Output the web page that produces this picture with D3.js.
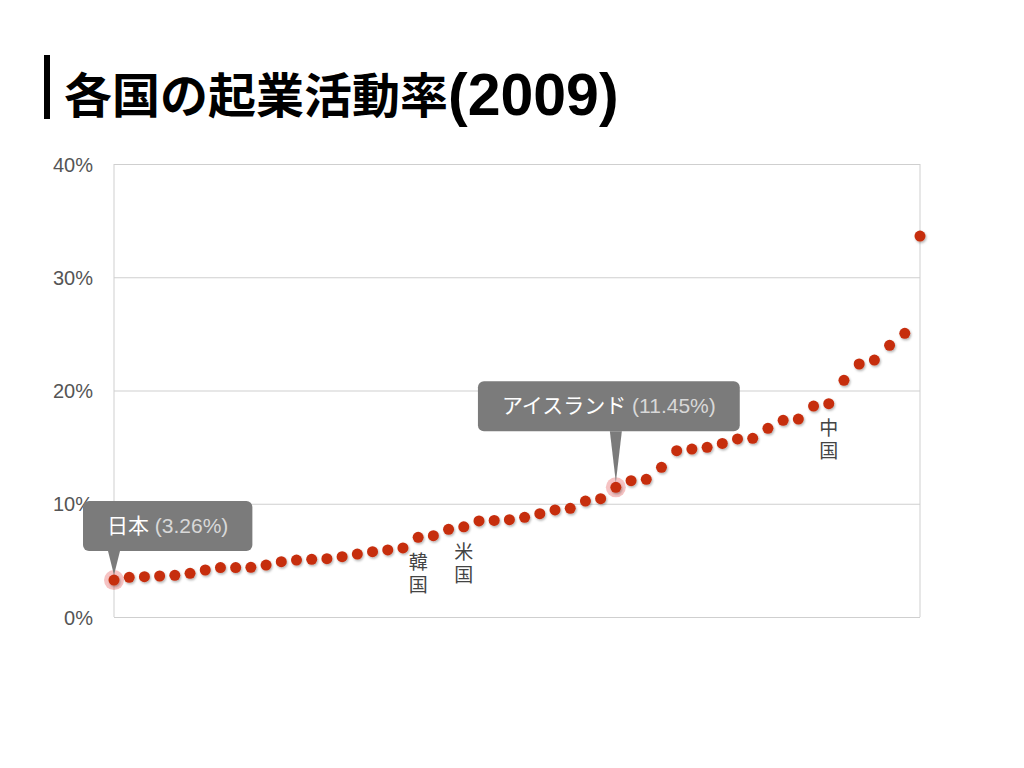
<!DOCTYPE html>
<html>
<head>
<meta charset="utf-8">
<script src="https://cdn.jsdelivr.net/npm/d3@7"></script>
<style>
  body { margin: 0; background: #fff; }
  svg { display: block; font-family: "Liberation Sans", "Noto Sans CJK JP", sans-serif; }
</style>
</head>
<body>
<svg id="chart"></svg>
<script>
// 起業活動率 (TEA) 2009, sorted ascending, one value per country
const rates = [
  3.26, 3.50, 3.56, 3.62, 3.68, 3.86, 4.15, 4.36, 4.36, 4.39,
  4.59, 4.88, 5.03, 5.09, 5.15, 5.33, 5.56, 5.77, 5.92, 6.10,
  7.04, 7.18, 7.74, 7.96, 8.48, 8.53, 8.59, 8.80, 9.12, 9.45,
  9.60, 10.24, 10.45, 11.45, 12.04, 12.16, 13.22, 14.69, 14.83, 14.98,
  15.33, 15.72, 15.78, 16.66, 17.37, 17.48, 18.63, 18.84, 20.90, 22.34,
  22.69, 23.99, 25.05, 33.64
];
const yTicks = [0, 10, 20, 30, 40];

// labelled countries (index into rates)
const labelIdx = [20, 23, 47];
const labelText = ["韓国", "米国", "中国"];

// callouts
const calloutIdx = [0, 33];
const calloutName = ["日本", "アイスランド"];

const width = 1024, height = 768;
const plot = { left: 114, right: 920, top: 164, bottom: 617 };
const dotColor = "#c62d0d";

const svg = d3.select("#chart").attr("width", width).attr("height", height);

const defs = svg.append("defs");
const shadow = defs.append("filter").attr("id", "shadow")
  .attr("x", "-50%").attr("y", "-50%").attr("width", "200%").attr("height", "200%");
shadow.append("feDropShadow")
  .attr("dx", 1).attr("dy", 1.5).attr("stdDeviation", 1)
  .attr("flood-color", "#000").attr("flood-opacity", 0.3);

// title
svg.append("rect").attr("x", 44).attr("y", 55).attr("width", 6).attr("height", 64).attr("fill", "#000");
const title = svg.append("text")
  .attr("x", 64).attr("y", 113)
  .attr("font-weight", "bold").attr("fill", "#000");
title.append("tspan").attr("font-size", 48).attr("font-family", "Noto Sans CJK JP, sans-serif")
  .text("各国の起業活動率");
title.append("tspan").attr("font-size", 59).attr("font-family", "Liberation Sans, sans-serif")
  .attr("dy", 2).text("(2009)");

const x = d3.scaleLinear().domain([0, rates.length - 1]).range([plot.left, plot.right]);
const y = d3.scaleLinear().domain([0, 40]).range([plot.bottom, plot.top]);

// grid + frame
const yAxis = d3.axisLeft(y).tickValues(yTicks).tickFormat(d => d + "%")
  .tickSize(-(plot.right - plot.left)).tickPadding(21);
const gy = svg.append("g").attr("transform", `translate(${plot.left},0)`).call(yAxis);
gy.select(".domain").remove();
gy.selectAll(".tick line").attr("stroke", "#cfcfcf");
gy.selectAll(".tick text")
  .attr("font-size", 20).attr("fill", "#555").attr("dy", "0.36em")
  .attr("font-family", "Liberation Sans, sans-serif");

svg.append("line")
  .attr("x1", plot.left).attr("x2", plot.left).attr("y1", plot.top).attr("y2", plot.bottom)
  .attr("stroke", "#cfcfcf");
svg.append("line")
  .attr("x1", plot.right).attr("x2", plot.right).attr("y1", plot.top).attr("y2", plot.bottom)
  .attr("stroke", "#cfcfcf");

// halos for highlighted points
svg.append("g").selectAll("circle")
  .data(calloutIdx)
  .join("circle")
  .attr("cx", i => x(i)).attr("cy", i => y(rates[i]))
  .attr("r", 10)
  .attr("fill", "#e86a6a").attr("fill-opacity", 0.4);

// dots
svg.append("g").attr("filter", "url(#shadow)")
  .selectAll("circle")
  .data(rates)
  .join("circle")
  .attr("cx", (d, i) => x(i))
  .attr("cy", d => y(d))
  .attr("r", 5.5)
  .attr("fill", dotColor);

// country labels, written vertically
svg.append("g").selectAll("text")
  .data(labelIdx)
  .join("text")
  .attr("x", i => x(i))
  .attr("y", i => y(rates[i]) + 15)
  .attr("writing-mode", "vertical-rl")
  .attr("letter-spacing", 4)
  .attr("font-size", 19).attr("fill", "#444")
  .attr("font-family", "Noto Sans CJK JP, sans-serif")
  .text((d, k) => labelText[k]);

// callouts
const calloutGap = [29, 56];
calloutIdx.forEach((idx, k) => {
  const cx = x(idx), cy = y(rates[idx]);
  const g = svg.append("g");
  const txt = g.append("text")
    .attr("font-size", 21).attr("fill", "#fff");
  txt.append("tspan").attr("font-family", "Noto Sans CJK JP, sans-serif").text(calloutName[k]);
  txt.append("tspan").attr("fill", "#d8d8d8").text(" (" + rates[idx].toFixed(2) + "%)");
  const w = txt.node().getComputedTextLength() + 48;
  const h = 50;
  const bottom = cy - calloutGap[k];
  const left = Math.max(83, cx - w / 2 - 7);
  g.insert("path", "text")
    .attr("d", `M${cx - 6},${bottom} L${cx},${cy - 5} L${cx + 6},${bottom} Z`)
    .attr("fill", "#7b7b7b");
  g.insert("rect", "text")
    .attr("x", left).attr("y", bottom - h)
    .attr("width", w).attr("height", h)
    .attr("rx", 6)
    .attr("fill", "#7b7b7b");
  txt.attr("x", left + 24).attr("y", bottom - h / 2 + 7);
});
</script>
</body>
</html>
